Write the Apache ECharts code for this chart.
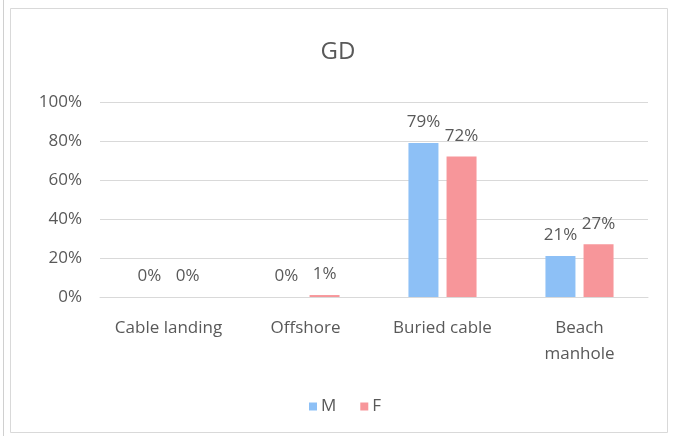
<!DOCTYPE html>
<html>
<head>
<meta charset="utf-8">
<script src="https://cdn.jsdelivr.net/npm/echarts@6/dist/echarts.min.js"></script>
<style>
  html, body { margin: 0; padding: 0; background: #ffffff; }
  #chart { width: 676px; height: 436px; }
</style>
</head>
<body>
<div id="chart"></div>
<script>
// Share of responses by location, split by sex
const categories = ['Cable landing', 'Offshore', 'Buried cable', 'Beach\nmanhole'];
const maleValues = [0, 0, 79, 21];
const femaleValues = [0, 1, 72, 27];
const yTicks = [0, 20, 40, 60, 80, 100];

const FONT = '"Open Sans", "Liberation Sans", sans-serif';
const TEXT = '#595959';
const SIZE = 17;

const chart = echarts.init(document.getElementById('chart'), null, { renderer: 'canvas' });

const labelStyle = {
  show: true,
  position: 'top',
  distance: 12,
  formatter: p => p.value + '%',
  color: TEXT,
  fontFamily: FONT,
  fontSize: SIZE
};

chart.setOption({
  animation: false,
  backgroundColor: '#ffffff',
  title: {
    text: 'GD',
    left: 'center',
    top: 35,
    textStyle: { color: TEXT, fontFamily: FONT, fontSize: 24, fontWeight: 'normal' }
  },
  legend: {
    bottom: 16,
    left: 304,
    itemWidth: 8,
    itemHeight: 8,
    itemGap: 24,
    icon: 'rect',
    textStyle: { color: TEXT, fontFamily: FONT, fontSize: SIZE, padding: [0, 0, 0, -1] },
    data: ['M', 'F']
  },
  grid: { left: 100, right: 28, top: 102, bottom: 139, containLabel: false },
  xAxis: {
    type: 'category',
    data: categories,
    axisLine: { lineStyle: { color: '#d9d9d9' } },
    axisTick: { show: false },
    axisLabel: {
      interval: 0,
      hideOverlap: false,
      color: TEXT, fontFamily: FONT, fontSize: SIZE, margin: 18, lineHeight: 26
    }
  },
  yAxis: {
    type: 'value',
    min: yTicks[0],
    max: yTicks[yTicks.length - 1],
    interval: 20,
    axisLine: { show: false },
    axisTick: { show: false },
    splitLine: { lineStyle: { color: '#d9d9d9', width: 1 } },
    axisLabel: { color: TEXT, fontFamily: FONT, fontSize: SIZE, margin: 18, formatter: '{value}%' }
  },
  series: [
    {
      name: 'M',
      type: 'bar',
      data: maleValues,
      barWidth: 30,
      barGap: '27%',
      itemStyle: { color: '#8dc0f6' },
      label: labelStyle
    },
    {
      name: 'F',
      type: 'bar',
      data: femaleValues,
      barWidth: 30,
      barGap: '27%',
      itemStyle: { color: '#f7969a' },
      label: labelStyle
    }
  ],
  graphic: [
    {
      type: 'rect',
      shape: { x: 10.5, y: 8.5, width: 657, height: 424 },
      style: { fill: 'none', stroke: '#d9d9d9', lineWidth: 1 },
      silent: true
    },
    {
      type: 'line',
      shape: { x1: 3.5, y1: 0, x2: 3.5, y2: 436 },
      style: { stroke: '#d0d0d0', lineWidth: 1 },
      silent: true
    }
  ]
});
</script>
</body>
</html>
